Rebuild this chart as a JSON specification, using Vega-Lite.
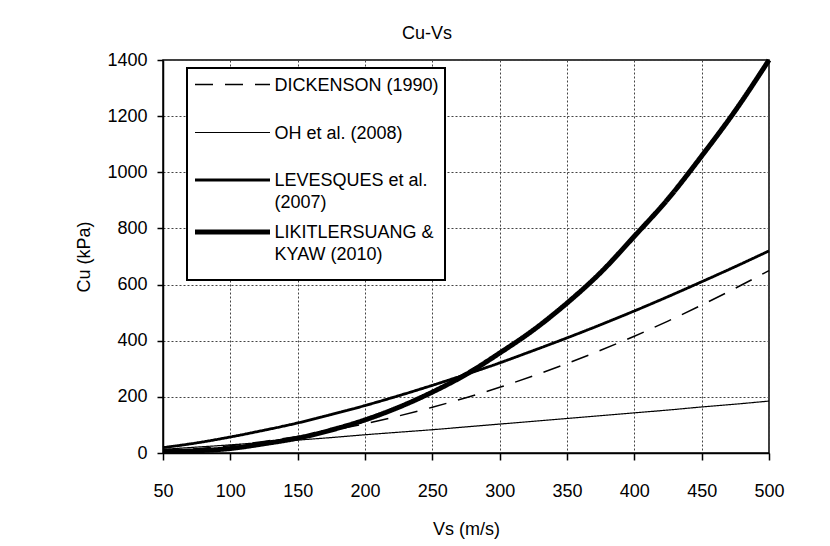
{
  "$schema": "https://vega.github.io/schema/vega-lite/v6.json",
  "width": 606,
  "height": 393,
  "autosize": {"type": "none"},
  "padding": {"left": 163, "top": 60, "right": 61, "bottom": 93},
  "background": "white",
  "title": {"text": "Cu-Vs", "fontSize": 18, "font": "Liberation Sans", "fontWeight": "normal", "color": "black", "anchor": "middle", "dx": -39, "offset": 7},
  "datasets": {
    "curves": [
      {"series": "DICKENSON (1990)", "Vs": 50, "Cu": 6},
      {"series": "DICKENSON (1990)", "Vs": 75, "Cu": 15},
      {"series": "DICKENSON (1990)", "Vs": 100, "Cu": 26},
      {"series": "DICKENSON (1990)", "Vs": 125, "Cu": 41},
      {"series": "DICKENSON (1990)", "Vs": 150, "Cu": 59},
      {"series": "DICKENSON (1990)", "Vs": 175, "Cu": 80},
      {"series": "DICKENSON (1990)", "Vs": 200, "Cu": 104},
      {"series": "DICKENSON (1990)", "Vs": 225, "Cu": 132},
      {"series": "DICKENSON (1990)", "Vs": 250, "Cu": 163},
      {"series": "DICKENSON (1990)", "Vs": 275, "Cu": 197},
      {"series": "DICKENSON (1990)", "Vs": 300, "Cu": 234},
      {"series": "DICKENSON (1990)", "Vs": 325, "Cu": 275},
      {"series": "DICKENSON (1990)", "Vs": 350, "Cu": 319},
      {"series": "DICKENSON (1990)", "Vs": 375, "Cu": 366},
      {"series": "DICKENSON (1990)", "Vs": 400, "Cu": 416},
      {"series": "DICKENSON (1990)", "Vs": 425, "Cu": 470},
      {"series": "DICKENSON (1990)", "Vs": 450, "Cu": 527},
      {"series": "DICKENSON (1990)", "Vs": 475, "Cu": 587},
      {"series": "DICKENSON (1990)", "Vs": 500, "Cu": 650},
      {"series": "OH et al. (2008)", "Vs": 50, "Cu": 13},
      {"series": "OH et al. (2008)", "Vs": 75, "Cu": 21},
      {"series": "OH et al. (2008)", "Vs": 100, "Cu": 29},
      {"series": "OH et al. (2008)", "Vs": 125, "Cu": 38},
      {"series": "OH et al. (2008)", "Vs": 150, "Cu": 46},
      {"series": "OH et al. (2008)", "Vs": 175, "Cu": 55},
      {"series": "OH et al. (2008)", "Vs": 200, "Cu": 65},
      {"series": "OH et al. (2008)", "Vs": 225, "Cu": 74},
      {"series": "OH et al. (2008)", "Vs": 250, "Cu": 83},
      {"series": "OH et al. (2008)", "Vs": 275, "Cu": 93},
      {"series": "OH et al. (2008)", "Vs": 300, "Cu": 103},
      {"series": "OH et al. (2008)", "Vs": 325, "Cu": 113},
      {"series": "OH et al. (2008)", "Vs": 350, "Cu": 123},
      {"series": "OH et al. (2008)", "Vs": 375, "Cu": 133},
      {"series": "OH et al. (2008)", "Vs": 400, "Cu": 143},
      {"series": "OH et al. (2008)", "Vs": 425, "Cu": 153},
      {"series": "OH et al. (2008)", "Vs": 450, "Cu": 164},
      {"series": "OH et al. (2008)", "Vs": 475, "Cu": 174},
      {"series": "OH et al. (2008)", "Vs": 500, "Cu": 185},
      {"series": "LEVESQUES et al.|(2007)", "Vs": 50, "Cu": 19},
      {"series": "LEVESQUES et al.|(2007)", "Vs": 75, "Cu": 36},
      {"series": "LEVESQUES et al.|(2007)", "Vs": 100, "Cu": 57},
      {"series": "LEVESQUES et al.|(2007)", "Vs": 125, "Cu": 81},
      {"series": "LEVESQUES et al.|(2007)", "Vs": 150, "Cu": 107},
      {"series": "LEVESQUES et al.|(2007)", "Vs": 175, "Cu": 137},
      {"series": "LEVESQUES et al.|(2007)", "Vs": 200, "Cu": 169},
      {"series": "LEVESQUES et al.|(2007)", "Vs": 225, "Cu": 204},
      {"series": "LEVESQUES et al.|(2007)", "Vs": 250, "Cu": 241},
      {"series": "LEVESQUES et al.|(2007)", "Vs": 275, "Cu": 280},
      {"series": "LEVESQUES et al.|(2007)", "Vs": 300, "Cu": 321},
      {"series": "LEVESQUES et al.|(2007)", "Vs": 325, "Cu": 365},
      {"series": "LEVESQUES et al.|(2007)", "Vs": 350, "Cu": 410},
      {"series": "LEVESQUES et al.|(2007)", "Vs": 375, "Cu": 457},
      {"series": "LEVESQUES et al.|(2007)", "Vs": 400, "Cu": 506},
      {"series": "LEVESQUES et al.|(2007)", "Vs": 425, "Cu": 557},
      {"series": "LEVESQUES et al.|(2007)", "Vs": 450, "Cu": 610},
      {"series": "LEVESQUES et al.|(2007)", "Vs": 475, "Cu": 664},
      {"series": "LEVESQUES et al.|(2007)", "Vs": 500, "Cu": 720},
      {"series": "LIKITLERSUANG &|KYAW (2010)", "Vs": 50, "Cu": 5},
      {"series": "LIKITLERSUANG &|KYAW (2010)", "Vs": 75, "Cu": 8},
      {"series": "LIKITLERSUANG &|KYAW (2010)", "Vs": 100, "Cu": 16},
      {"series": "LIKITLERSUANG &|KYAW (2010)", "Vs": 125, "Cu": 33},
      {"series": "LIKITLERSUANG &|KYAW (2010)", "Vs": 150, "Cu": 53},
      {"series": "LIKITLERSUANG &|KYAW (2010)", "Vs": 175, "Cu": 82},
      {"series": "LIKITLERSUANG &|KYAW (2010)", "Vs": 200, "Cu": 118},
      {"series": "LIKITLERSUANG &|KYAW (2010)", "Vs": 225, "Cu": 163},
      {"series": "LIKITLERSUANG &|KYAW (2010)", "Vs": 250, "Cu": 217},
      {"series": "LIKITLERSUANG &|KYAW (2010)", "Vs": 275, "Cu": 280},
      {"series": "LIKITLERSUANG &|KYAW (2010)", "Vs": 300, "Cu": 356},
      {"series": "LIKITLERSUANG &|KYAW (2010)", "Vs": 325, "Cu": 438},
      {"series": "LIKITLERSUANG &|KYAW (2010)", "Vs": 350, "Cu": 534},
      {"series": "LIKITLERSUANG &|KYAW (2010)", "Vs": 375, "Cu": 643},
      {"series": "LIKITLERSUANG &|KYAW (2010)", "Vs": 400, "Cu": 772},
      {"series": "LIKITLERSUANG &|KYAW (2010)", "Vs": 425, "Cu": 905},
      {"series": "LIKITLERSUANG &|KYAW (2010)", "Vs": 450, "Cu": 1058},
      {"series": "LIKITLERSUANG &|KYAW (2010)", "Vs": 475, "Cu": 1220},
      {"series": "LIKITLERSUANG &|KYAW (2010)", "Vs": 500, "Cu": 1400}
    ]
  },
  "data": {"name": "curves"},
  "mark": {"type": "line", "interpolate": "monotone", "color": "black"},
  "encoding": {
    "x": {
      "field": "Vs", "type": "quantitative",
      "scale": {"domain": [50, 500], "nice": false, "zero": false},
      "axis": {"values": [50, 100, 150, 200, 250, 300, 350, 400, 450, 500], "title": "Vs (m/s)", "labelFlush": false}
    },
    "y": {
      "field": "Cu", "type": "quantitative",
      "scale": {"domain": [0, 1400], "nice": false},
      "axis": {"values": [0, 200, 400, 600, 800, 1000, 1200, 1400], "format": "d", "title": "Cu (kPa)", "labelFlush": false}
    },
    "strokeDash": {
      "field": "series", "type": "ordinal",
      "scale": {
        "type": "ordinal",
        "domain": ["DICKENSON (1990)", "OH et al. (2008)", "LEVESQUES et al.|(2007)", "LIKITLERSUANG &|KYAW (2010)"],
        "range": [[18, 12], [1, 0], [1, 0], [1, 0]]
      },
      "legend": {
        "orient": "none", "legendX": 24, "legendY": 8, "title": null,
        "fillColor": "white", "strokeColor": "black", "padding": 6,
        "symbolType": "M-3.947,0H3.947M3.947,3.36", "symbolSize": 361, "symbolStrokeColor": "black",
        "symbolOffset": 27.5,
        "labelFont": "Liberation Sans", "labelFontSize": 18, "labelColor": "black",
        "labelOffset": 30, "labelLimit": 300,
        "labelExpr": "split(datum.label, '|')", "labelBaseline": "alphabetic",
        "encoding": {
          "labels": {"dy": {"value": 6}, "lineHeight": {"value": 22}},
          "legend": {"strokeWidth": {"value": 2}}
        }
      }
    },
    "strokeWidth": {
      "field": "series", "type": "ordinal",
      "scale": {
        "type": "ordinal",
        "domain": ["DICKENSON (1990)", "OH et al. (2008)", "LEVESQUES et al.|(2007)", "LIKITLERSUANG &|KYAW (2010)"],
        "range": [1.5, 1.2, 2.8, 5]
      },
      "legend": {
        "orient": "none", "legendX": 24, "legendY": 8, "title": null,
        "fillColor": "white", "strokeColor": "black", "padding": 6,
        "symbolType": "M-3.947,0H3.947M3.947,3.36", "symbolSize": 361, "symbolStrokeColor": "black",
        "symbolOffset": 27.5,
        "labelFont": "Liberation Sans", "labelFontSize": 18, "labelColor": "black",
        "labelOffset": 30, "labelLimit": 300,
        "labelExpr": "split(datum.label, '|')", "labelBaseline": "alphabetic",
        "encoding": {
          "labels": {"dy": {"value": 6}, "lineHeight": {"value": 22}},
          "legend": {"strokeWidth": {"value": 2}}
        }
      }
    }
  },
  "config": {
    "view": {"stroke": "black", "strokeWidth": 1.5},
    "axis": {
      "labelFont": "Liberation Sans", "labelFontSize": 18, "labelColor": "black",
      "titleFont": "Liberation Sans", "titleFontSize": 18, "titleFontWeight": "normal", "titleColor": "black",
      "domainColor": "black", "domainWidth": 1.5, "tickColor": "black", "tickWidth": 1.5,
      "gridColor": "#444444", "gridDash": [2, 2], "gridWidth": 1, "gridOpacity": 1
    },
    "axisX": {"tickSize": 7, "labelPadding": 22, "titlePadding": 20},
    "axisY": {"tickSize": 6, "labelPadding": 10, "titlePadding": 13}
  }
}
